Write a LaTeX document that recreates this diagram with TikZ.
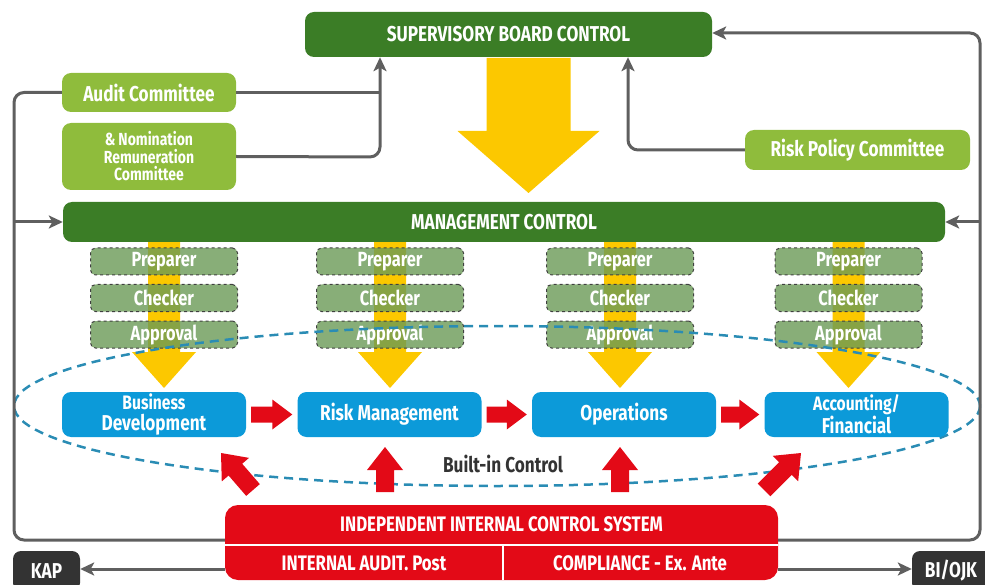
\documentclass[tikz,border=0pt]{standalone}
\usepackage{fontspec}
\newfontfamily\cf{Fira Sans}[FakeStretch=0.8]
\usetikzlibrary{calc,arrows.meta}
\definecolor{dgreen}{RGB}{59,125,38}
\definecolor{lgreen}{RGB}{143,188,60}
\definecolor{pgreen}{RGB}{106,154,86}
\definecolor{bblue}{RGB}{12,154,217}
\definecolor{rred}{RGB}{227,10,23}
\definecolor{lgray}{RGB}{95,95,95}
\definecolor{ellcol}{RGB}{42,140,180}
\definecolor{yell}{RGB}{252,200,0}
\definecolor{kapgray}{RGB}{51,51,51}
\newcommand\blockarr[6]{%
  \coordinate (ba1) at (#1); \coordinate (ba2) at (#2);
  \coordinate (bah) at ($(ba2)!#5pt!(ba1)$);
  \fill[#6] ($(ba1)!#3pt!90:(ba2)$) -- ($(bah)!#3pt!-90:(ba1)$) -- ($(bah)!#4pt!-90:(ba1)$)
    -- (ba2) -- ($(bah)!#4pt!90:(ba1)$) -- ($(bah)!#3pt!90:(ba1)$) -- ($(ba1)!#3pt!-90:(ba2)$) -- cycle;}
\begin{document}
\begin{tikzpicture}[x=1pt,y=-1pt,
  box/.style={rounded corners=9pt, text=white, align=center, inner sep=0pt,
    font=\cf\bfseries\fontsize{21.5}{21}\selectfont},
  pcabox/.style={box, fill=pgreen, fill opacity=0.8, text opacity=1, draw=black!75,
    dashed, line width=1pt, rounded corners=5pt, minimum width=147pt, minimum height=27pt,
    font=\cf\bfseries\fontsize{20.5}{20}\selectfont},
  bluebox/.style={box, fill=bblue, minimum width=184pt, minimum height=45pt},
  conn/.style={draw=lgray, line width=3pt, rounded corners=10pt},
  tip/.style={-{Stealth[length=14pt,width=13pt,inset=3.5pt]}},
  redtxt/.style={text=white, font=\cf\bfseries\fontsize{21}{21}\selectfont}]
\useasboundingbox (0,0) rectangle (985,585);
% yellow arrows
\coordinate (ya1) at (528.5,58); \coordinate (ya2) at (528.5,193);
\blockarr{ya1}{ya2}{42}{71}{62}{yell}
\foreach \cx/\n in {164/a,390/b,620/c,848.5/d}{
  \coordinate (s\n) at (\cx,242); \coordinate (e\n) at (\cx,388);
  \blockarr{s\n}{e\n}{16}{32}{36}{yell}
}
% top boxes
\node[box, fill=dgreen, minimum width=407pt, minimum height=45pt] (sup) at (508.5,34.5) {SUPERVISORY BOARD CONTROL};
\node[box, fill=lgreen, minimum width=174pt, minimum height=39pt] (audit) at (149,92.5) {Audit Committee};
\node[box, fill=lgreen, minimum width=174pt, minimum height=67pt,
  font=\cf\bfseries\fontsize{17.5}{17.5}\selectfont] (nom) at (149,156.5) {\&\,Nomination\\Remuneration\\Committee};
\node[box, fill=lgreen, minimum width=225pt, minimum height=40pt] (risk) at (857.5,150) {Risk Policy Committee};
\node[box, fill=dgreen, minimum width=882pt, minimum height=40pt] (mgmt) at (504,222) {MANAGEMENT CONTROL};
% preparer / checker / approval
\foreach \cx/\n in {164/a,390/b,620/c,848.5/d}{
  \node[pcabox] (p\n) at (\cx,261.5) {Preparer};
  \node[pcabox] (c\n) at (\cx,298) {Checker};
  \node[pcabox] (ap\n) at (\cx,334.5) {Approval};
}
% built-in control ellipse
\draw[ellcol, line width=2.5pt, dash pattern=on 9pt off 6pt] (497,406) ellipse [x radius=483, y radius=80];
\node[text=kapgray, font=\cf\bfseries\fontsize{21.5}{21}\selectfont] (bic) at (503,464) {Built-in Control};
% blue boxes
\node[bluebox] (bd) at (154,414.5) {\fontsize{19.5}{18}\selectfont Business\\Development};
\node[bluebox] (rm) at (389.5,414.5) {Risk Management};
\node[bluebox] (op) at (624,414.5) {Operations};
\node[bluebox] (af) at (856.5,414.5) {\fontsize{19.5}{18}\selectfont Accounting/\\Financial};
% red horizontal arrows
\blockarr{$(bd.east)+(5,0)$}{$(rm.west)+(-5,0)$}{8}{15}{20}{rred}
\blockarr{$(rm.east)+(5,0)$}{$(op.west)+(-5,0)$}{8}{15}{20}{rred}
\blockarr{$(op.east)+(5,0)$}{$(af.west)+(-5,0)$}{8}{15}{20}{rred}
% independent internal control system
\node[box, fill=rred, minimum width=553pt, minimum height=75pt, rounded corners=13pt] (ics) at (501.5,542.5) {};
\node[redtxt] (icst) at (501.5,524) {INDEPENDENT INTERNAL CONTROL SYSTEM};
\draw[white, line width=1.5pt] (ics.west |- 0,545) -- (ics.east |- 0,545);
\draw[white, line width=1.5pt] (503,545) -- (503,580);
\node[redtxt] (ia) at (364,563.5) {INTERNAL AUDIT. Post};
\node[redtxt] (comp) at (640,563.5) {COMPLIANCE - Ex. Ante};
% red up arrows
\blockarr{253,490}{221,453}{9}{18}{22}{rred}
\blockarr{385,492}{385,447}{9}{18}{23}{rred}
\blockarr{620,492}{620,447}{9}{18}{23}{rred}
\blockarr{764,490}{801,453}{9}{18}{22}{rred}
% KAP and BI/OJK
\node[box, fill=kapgray, minimum width=67pt, minimum height=40pt, rounded corners=8pt] (kap) at (46.5,571) {KAP};
\node[box, fill=kapgray, minimum width=82pt, minimum height=40pt, rounded corners=8pt, text width=82pt] (bi) at (953,571) {BI/OJK\hspace*{4pt}};
% connectors
\coordinate (ly) at (0,540);
\coordinate (ky) at (0,569);
\draw[conn] (ics.west |- ly) -| (14,92.5) -- (audit.west);
\draw[conn, tip] (14,222) -- (mgmt.west);
\draw[conn, tip] (ics.east |- ly) -| (980,33) -- (sup.east |- 0,33);
\draw[conn, tip] (980,222) -- (mgmt.east);
\draw[conn] (audit.east) -- (380,92.5);
\draw[conn, tip] (nom.east) -- (380,157) -- (sup.south -| 380,0);
\draw[conn, tip] (risk.west) -- (628,150) -- (sup.south -| 628,0);
\draw[conn, tip] (ics.west |- ky) -- (kap.east |- ky);
\draw[conn, tip] (ics.east |- ky) -- (bi.west |- ky);
\end{tikzpicture}
\end{document}
